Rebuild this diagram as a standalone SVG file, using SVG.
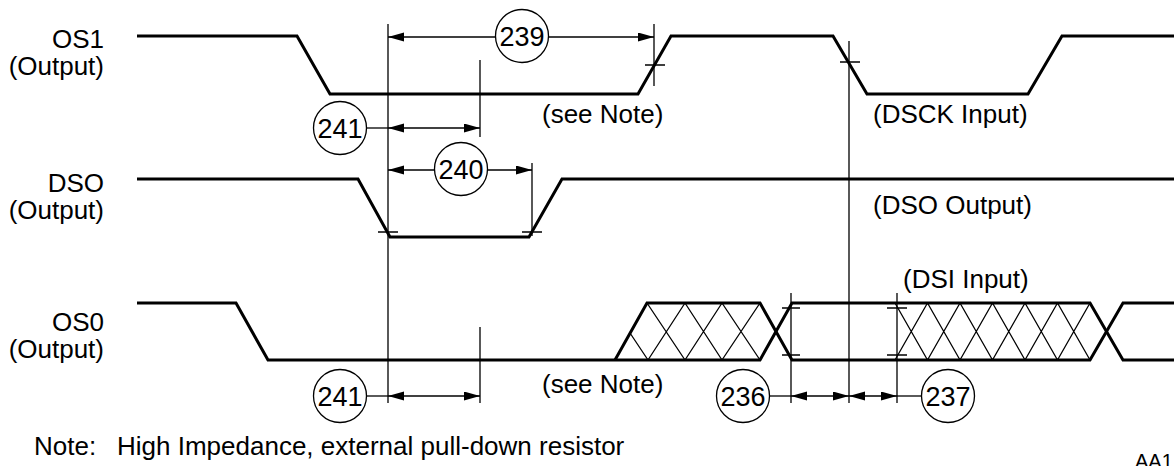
<svg xmlns="http://www.w3.org/2000/svg" width="1174" height="466" viewBox="0 0 1174 466">
<style>
text{font-family:"Liberation Sans",Arial,sans-serif;font-size:26px;fill:#000}
.lbl{text-anchor:end}
.num{text-anchor:middle;font-size:27px}
.sig{fill:none;stroke:#000;stroke-width:3;stroke-linejoin:miter}
.thin{fill:none;stroke:#000;stroke-width:1.3}
.dim{fill:none;stroke:#000;stroke-width:1.3}
.circ{fill:#fff;stroke:#000;stroke-width:1.3}
</style>
<defs>
<marker id="ah" markerUnits="userSpaceOnUse" markerWidth="17" markerHeight="10" refX="16" refY="4.5" orient="auto-start-reverse">
<path d="M0,0 L16,4.5 L0,9 z" fill="#000"/>
</marker>
</defs>
<rect width="1174" height="466" fill="#fff"/>

<g id="OS1">
<text class="lbl" x="104" y="48">OS1</text>
<text class="lbl" x="104" y="75">(Output)</text>
<polyline class="sig" points="137,36 297,36 330,94 638,94 671,36 833,36 867,94 1028,94 1062,36 1174,36"/>
<text x="542" y="123">(see Note)</text>
<text x="873" y="123">(DSCK Input)</text>
</g>

<g id="DSO">
<text class="lbl" x="104" y="192">DSO</text>
<text class="lbl" x="104" y="219">(Output)</text>
<polyline class="sig" points="137,179 358,179 390,237 529,237 562,179 1174,179"/>
<text x="873" y="214">(DSO Output)</text>
</g>

<g id="OS0">
<text class="lbl" x="104" y="331">OS0</text>
<text class="lbl" x="104" y="358">(Output)</text>
<polyline class="sig" points="137,303 236,303 268,360 760,360 792,303 1090,303 1123,360 1174,360"/>
<polyline class="sig" points="615,360 647,303 760,303 792,360 1090,360 1123,303 1174,303"/>
<path class="thin" d="M647,303 L685,360 M685,303 L722,360 M722,303 L760,360 M630,333 L648,360 M648,360 L685,303 M685,360 L722,303 M722,360 L760,303"/>
<path class="thin" d="M895,303 L927.5,360 M927.5,303 L960,360 M960,303 L992.5,360 M992.5,303 L1025,360 M1025,303 L1057.5,360 M1057.5,303 L1090,360 M895,360 L927.5,303 M927.5,360 L960,303 M960,360 L992.5,303 M992.5,360 L1025,303 M1025,360 L1057.5,303 M1057.5,360 L1090,303"/>
<text x="903" y="288">(DSI Input)</text>
<text x="542" y="393">(see Note)</text>
</g>

<g id="connectors">
<path class="dim" d="M388,24 V403 M480,60 V137 M480,327 V403 M654,24 V86 M849,41 V403 M532,163 V236 M791,293 V403 M897,293 V403"/>
<path class="dim" d="M645,65 H665 M840,62 H860 M378,232 H398 M522,232 H542 M782,308 H800 M782,355 H800 M887,308 H907 M887,355 H907"/>
<line class="dim" x1="495.5" y1="37" x2="388" y2="37" marker-end="url(#ah)"/>
<line class="dim" x1="548.5" y1="37" x2="654" y2="37" marker-end="url(#ah)"/>
<line class="dim" x1="434.5" y1="170" x2="388" y2="170" marker-end="url(#ah)"/>
<line class="dim" x1="487.5" y1="170" x2="532" y2="170" marker-end="url(#ah)"/>
<line class="dim" x1="366.5" y1="128" x2="388" y2="128"/>
<line class="dim" x1="388" y1="128" x2="480" y2="128" marker-start="url(#ah)" marker-end="url(#ah)"/>
<line class="dim" x1="366.5" y1="396" x2="388" y2="396"/>
<line class="dim" x1="388" y1="396" x2="480" y2="396" marker-start="url(#ah)" marker-end="url(#ah)"/>
<line class="dim" x1="769.5" y1="396" x2="791" y2="396"/>
<line class="dim" x1="791" y1="396" x2="849" y2="396" marker-start="url(#ah)" marker-end="url(#ah)"/>
<line class="dim" x1="849" y1="396" x2="897" y2="396" marker-start="url(#ah)" marker-end="url(#ah)"/>
<line class="dim" x1="897" y1="396" x2="921.5" y2="396"/>
</g>

<g id="n239"><circle class="circ" cx="522" cy="36" r="26.5"/><text class="num" x="522" y="45.5">239</text></g>
<g id="n240"><circle class="circ" cx="461" cy="169" r="26.5"/><text class="num" x="461" y="178.5">240</text></g>
<g id="n241a"><circle class="circ" cx="340" cy="128" r="26.5"/><text class="num" x="340" y="137.5">241</text></g>
<g id="n241b"><circle class="circ" cx="340" cy="396" r="26.5"/><text class="num" x="340" y="405.5">241</text></g>
<g id="n236"><circle class="circ" cx="743" cy="396" r="26.5"/><text class="num" x="743" y="405.5">236</text></g>
<g id="n237"><circle class="circ" cx="948" cy="396" r="26.5"/><text class="num" x="948" y="405.5">237</text></g>

<g id="note">
<text x="34" y="455">Note:</text>
<text x="117" y="455">High Impedance, external pull-down resistor</text>
<text x="1135" y="468" style="font-size:20px">AA1</text>
</g>
</svg>
